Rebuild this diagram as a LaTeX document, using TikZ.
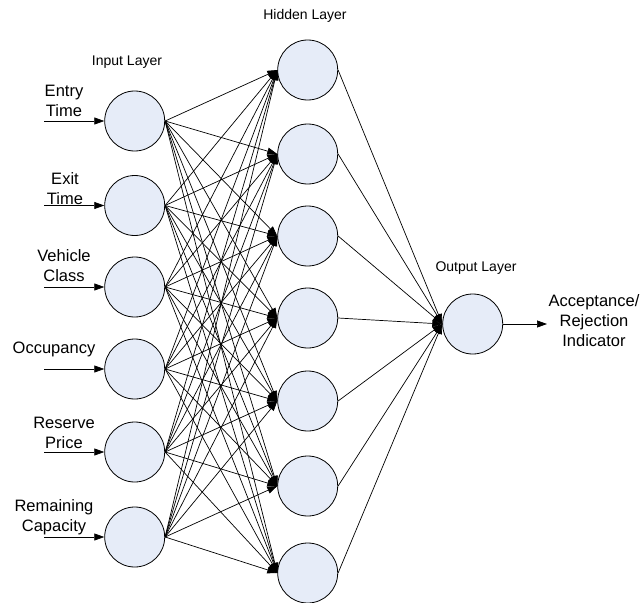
\documentclass[tikz,border=0pt]{standalone}
\usepackage{fontspec}
\setmainfont{Liberation Sans}
\usetikzlibrary{arrows.meta}
\definecolor{nodefill}{RGB}{230,236,248}
\begin{document}
\begin{tikzpicture}[x=1pt,y=-1pt,
  neuron/.style={circle,draw=black,line width=0.8pt,fill=nodefill,minimum size=60pt,inner sep=0pt},
  arr/.style={line width=0.7pt,-{Triangle[length=10pt,width=7pt]}},
  lbl/.style={font=\fontsize{16.5}{20}\selectfont,align=center,inner sep=0pt},
  layer/.style={font=\fontsize{14}{17}\selectfont,inner sep=0pt}]
\useasboundingbox (0,0) rectangle (642,602);
% input layer
\foreach \i/\y in {1/121,2/205.5,3/287,4/369,5/452,6/537}
  \node[neuron] (i\i) at (134.7,\y) {};
% hidden layer
\foreach \j/\y in {1/70,2/154,3/236,4/318,5/401,6/486,7/573}
  \node[neuron] (h\j) at (307.7,\y) {};
% output
\node[neuron] (o) at (472.7,324) {};
% labels
\node[layer] (tin) at (127,62) {Input Layer};
\node[layer] (thid) at (305,16) {Hidden Layer};
\node[layer] (tout) at (476,268) {Output Layer};
\node[lbl] (l1) at (64,101) {Entry\\Time};
\node[lbl] (l2) at (65,188.5) {Exit\\Time};
\node[lbl] (l3) at (64,266) {Vehicle\\Class};
\node[lbl] (l4) at (54,349) {Occupancy};
\node[lbl] (l5) at (64,433) {Reserve\\Price};
\node[lbl] (l6) at (54,517.5) {Remaining\\Capacity};
\node[lbl] (lo) at (594,320.5) {Acceptance/\\Rejection\\Indicator};
% input arrows
\foreach \i/\y in {1/121,2/205.5,3/287,4/369,5/452,6/537}
  \coordinate (s\i) at (44,\y);
\foreach \i in {1,...,6}
  \draw[arr] (s\i) -- (i\i.west);
% input to hidden
\foreach \i in {1,...,6}
  \foreach \j in {1,...,7}
    \draw[arr] (i\i.east) -- (h\j.west);
% hidden to output
\foreach \j in {1,...,7}
  \draw[arr] (h\j.east) -- (o.west);
% output arrow
\coordinate (oe) at (547,324);
\draw[arr] (o.east) -- (oe);
\end{tikzpicture}
\end{document}
